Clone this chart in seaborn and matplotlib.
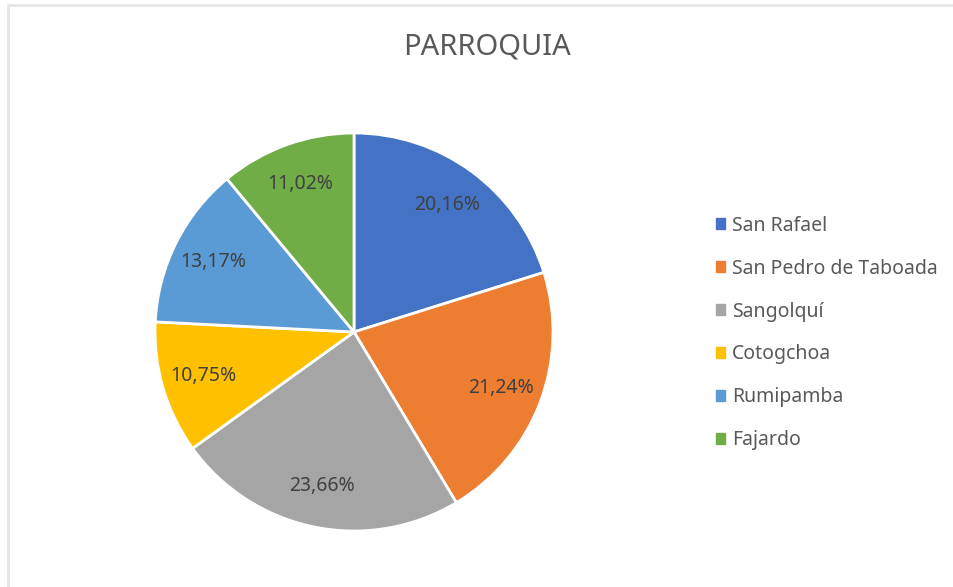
import matplotlib
matplotlib.use('Agg')
import matplotlib.pyplot as plt
import matplotlib.patches as mpatches
import seaborn as sns

# Data
parroquias = ['San Rafael', 'San Pedro de Taboada', 'Sangolquí', 'Cotogchoa', 'Rumipamba', 'Fajardo']
porcentajes = [20.16, 21.24, 23.66, 10.75, 13.17, 11.02]
colores = ['#4472C4', '#ED7D31', '#A5A5A5', '#FFC000', '#5B9BD5', '#70AD47']

sns.set_style('white')
plt.rcParams['font.family'] = ['Noto Sans', 'DejaVu Sans']

fig = plt.figure(figsize=(9.54, 5.87), dpi=100)

# light frame of the chart area
frame = mpatches.Rectangle((8 / 954, -0.01), 1.0, 1 - 5 / 587 + 0.01, transform=fig.transFigure,
                           fill=False, edgecolor='#E6E6E6', linewidth=2)
fig.patches.append(frame)

ax = fig.add_axes([155 / 954, 56 / 587, 398 / 954, 398 / 587])
wedges, texts, autotexts = ax.pie(
    porcentajes, colors=colores, startangle=90, counterclock=False,
    autopct=lambda p: f'{p:.2f}%'.replace('.', ','), pctdistance=0.79,
    wedgeprops=dict(edgecolor='white', linewidth=2),
    textprops=dict(color='#404040', fontsize=14))
ax.set_xlim(-1, 1)
ax.set_ylim(-1, 1)
ax.set_aspect('equal')

fig.text(487 / 954, 1 - 47 / 587, 'PARROQUIA', ha='center', va='center',
         fontsize=21, color='#595959')

handles = [mpatches.Patch(color=c, label=l) for c, l in zip(colores, parroquias)]
fig.legend(handles=handles, loc='center left', bbox_to_anchor=(716 / 954, 1 - 333 / 587),
           frameon=False, fontsize=14, labelcolor='#595959', handlelength=0.46, handleheight=0.46,
           handletextpad=0.36, labelspacing=1.18, borderpad=0, borderaxespad=0)

plt.savefig('out.png', dpi=100)
plt.close()
